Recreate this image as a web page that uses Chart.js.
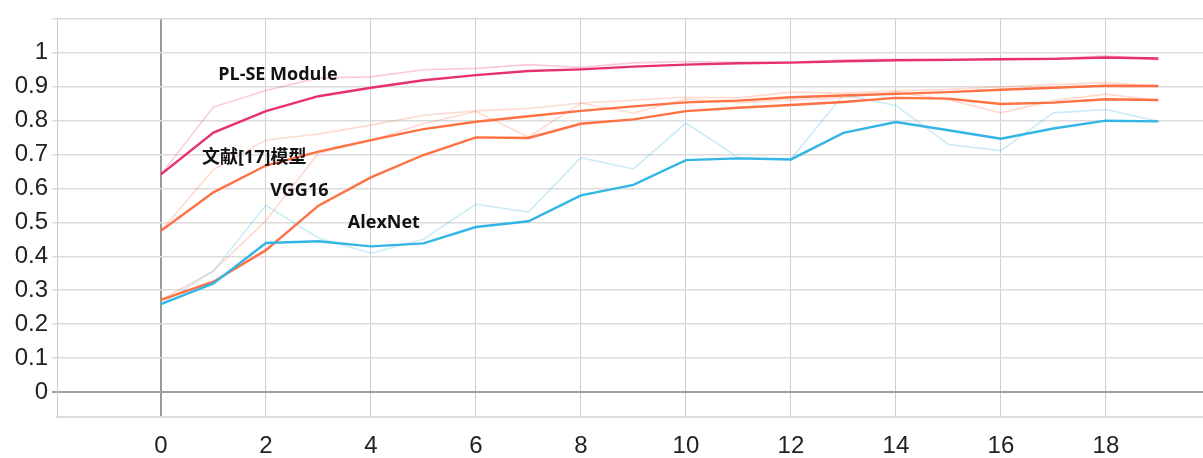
<!DOCTYPE html>
<html>
<head>
<meta charset="utf-8">
<script src="https://cdn.jsdelivr.net/npm/chart.js@4.4.0/dist/chart.umd.min.js"></script>
<style>
  body { margin: 0; background: #fff; }
  canvas { display: block; }
</style>
</head>
<body>
<canvas id="accChart" width="1203" height="458"></canvas>
<script>
// ===================================
// Training accuracy curves (raw + smoothed)
// ===================================

const steps = [0, 1, 2, 3, 4, 5, 6, 7, 8, 9, 10, 11, 12, 13, 14, 15, 16, 17, 18, 19];
const xTickValues = [0, 2, 4, 6, 8, 10, 12, 14, 16, 18];
const yTickValues = [0, 0.1, 0.2, 0.3, 0.4, 0.5, 0.6, 0.7, 0.8, 0.9, 1];

const seriesNames = ['PL-SE Module', '文献[17]模型', 'VGG16', 'AlexNet'];

// smoothed curves
const plseSmooth = [0.641, 0.764, 0.827, 0.871, 0.896, 0.918, 0.933, 0.945, 0.950, 0.958, 0.964, 0.968, 0.970, 0.974, 0.977, 0.978, 0.980, 0.981, 0.985, 0.982];
const ref17Smooth = [0.475, 0.588, 0.667, 0.708, 0.742, 0.774, 0.796, 0.812, 0.828, 0.841, 0.853, 0.858, 0.868, 0.873, 0.878, 0.883, 0.890, 0.896, 0.902, 0.901];
const vggSmooth = [0.272, 0.325, 0.418, 0.549, 0.632, 0.698, 0.750, 0.748, 0.790, 0.803, 0.827, 0.837, 0.845, 0.854, 0.866, 0.864, 0.848, 0.852, 0.862, 0.860];
const alexSmooth = [0.259, 0.320, 0.439, 0.444, 0.429, 0.438, 0.486, 0.503, 0.579, 0.610, 0.683, 0.688, 0.685, 0.763, 0.795, 0.771, 0.746, 0.776, 0.799, 0.797];

// raw (faint) curves
const plseRaw = [0.641, 0.839, 0.888, 0.925, 0.928, 0.949, 0.953, 0.964, 0.956, 0.969, 0.973, 0.971, 0.971, 0.978, 0.980, 0.980, 0.982, 0.982, 0.990, 0.978];
const ref17Raw = [0.475, 0.655, 0.742, 0.760, 0.786, 0.815, 0.828, 0.835, 0.851, 0.859, 0.868, 0.866, 0.883, 0.880, 0.886, 0.891, 0.899, 0.905, 0.911, 0.900];
const vggRaw = [0.272, 0.357, 0.505, 0.703, 0.741, 0.790, 0.826, 0.751, 0.851, 0.821, 0.863, 0.852, 0.860, 0.866, 0.883, 0.861, 0.822, 0.858, 0.877, 0.858];
const alexRaw = [0.259, 0.357, 0.550, 0.454, 0.409, 0.450, 0.553, 0.530, 0.690, 0.657, 0.792, 0.690, 0.686, 0.875, 0.844, 0.729, 0.711, 0.822, 0.832, 0.797];

const smoothSeries = [plseSmooth, ref17Smooth, vggSmooth, alexSmooth];
const rawSeries = [plseRaw, ref17Raw, vggRaw, alexRaw];
const seriesColors = ['#e8306d', '#ff7043', '#ff7043', '#33b5e5'];
const rawColors = ['rgba(232, 48, 109, 0.25)', 'rgba(255, 112, 67, 0.25)', 'rgba(255, 112, 67, 0.25)', 'rgba(51, 181, 229, 0.25)'];

// where the inline series names sit (data coordinates)
const labelAnchors = [[1.09, 0.935], [0.78, 0.690], [2.08, 0.593], [3.56, 0.497]];

function toPoints(values) {
    return values.map((v, i) => ({ x: steps[i], y: v }));
}

const datasets = [];
rawSeries.forEach((values, i) => {
    datasets.push({
        label: seriesNames[i] + ' (raw)',
        data: toPoints(values),
        borderColor: rawColors[i],
        borderWidth: 1.6,
        pointRadius: 0,
        tension: 0
    });
});
smoothSeries.forEach((values, i) => {
    datasets.push({
        label: seriesNames[i],
        data: toPoints(values),
        borderColor: seriesColors[i],
        borderWidth: 2.4,
        pointRadius: 0,
        tension: 0
    });
});
// put PL-SE last so it draws on top
datasets.reverse();

const seriesLabelPlugin = {
    id: 'seriesLabels',
    afterDatasetsDraw(chart) {
        const { ctx, scales } = chart;
        ctx.save();
        ctx.font = 'bold 18px "Open Sans", "Noto Sans CJK SC", sans-serif';
        ctx.fillStyle = '#111';
        ctx.textAlign = 'left';
        ctx.textBaseline = 'middle';
        seriesNames.forEach((name, i) => {
            const [lx, ly] = labelAnchors[i];
            ctx.fillText(name, scales.x.getPixelForValue(lx), scales.y.getPixelForValue(ly));
        });
        ctx.restore();
    }
};

const tickFont = { family: '"Liberation Sans", Arial, sans-serif', size: 24 };

new Chart(document.getElementById('accChart'), {
    type: 'line',
    data: { datasets: datasets },
    options: {
        responsive: false,
        animation: false,
        layout: { padding: { top: 16, right: 0, bottom: 0, left: 0 } },
        plugins: {
            legend: { display: false },
            tooltip: { enabled: false }
        },
        scales: {
            x: {
                type: 'linear',
                min: -1.98,
                max: 19.85,
                afterBuildTicks: scale => {
                    scale.ticks = xTickValues.map(v => ({ value: v }));
                },
                afterFit: scale => { scale.height = 41; },
                ticks: {
                    font: tickFont,
                    color: '#222',
                    padding: 15,
                    maxRotation: 0,
                    callback: v => String(v)
                },
                grid: {
                    drawTicks: false,
                    color: ctx => (ctx.tick && ctx.tick.value === 0) ? '#9a9a9a' : '#cfcfcf',
                    lineWidth: ctx => (ctx.tick && ctx.tick.value === 0) ? 2 : 1
                },
                border: { display: true, color: '#dcdcdc', width: 2 }
            },
            y: {
                type: 'linear',
                min: -0.073,
                max: 1.1,
                afterBuildTicks: scale => {
                    scale.ticks = yTickValues.concat([1.1]).map(v => ({ value: v }));
                },
                afterFit: scale => { scale.width = 57; },
                ticks: {
                    font: tickFont,
                    color: '#222',
                    padding: 4,
                    callback: v => yTickValues.includes(v) ? String(v) : ''
                },
                grid: {
                    tickLength: 5,
                    color: ctx => (ctx.tick && ctx.tick.value === 0) ? '#a0a0a0' : '#dcdcdc',
                    lineWidth: ctx => (ctx.tick && ctx.tick.value === 0) ? 2 : 1.5
                },
                border: { display: true, color: '#cccccc', width: 1 }
            }
        }
    },
    plugins: [seriesLabelPlugin]
});
</script>
</body>
</html>
